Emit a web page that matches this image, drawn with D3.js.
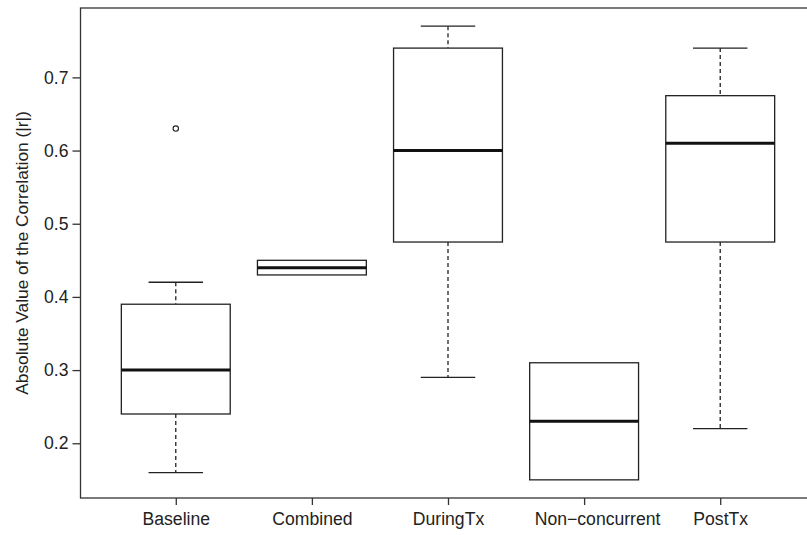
<!DOCTYPE html>
<html>
<head>
<meta charset="utf-8">
<script src="https://cdn.jsdelivr.net/npm/d3@7"></script>
<style>
  html, body { margin: 0; padding: 0; background: #fff; }
  svg text { font-family: "Liberation Sans", Arial, Helvetica, sans-serif; fill: #222; }
</style>
</head>
<body>
<svg id="chart" width="807" height="535"></svg>
<script>
// Box-plot summaries for each phase
const categories   = ["Baseline", "Combined", "DuringTx", "Non\u2212concurrent", "PostTx"];
const whiskerLow   = [0.16, 0.43, 0.29,  0.15, 0.22];
const lowerQuart   = [0.24, 0.43, 0.475, 0.15, 0.475];
const medians      = [0.30, 0.44, 0.60,  0.23, 0.61];
const upperQuart   = [0.39, 0.45, 0.74,  0.31, 0.675];
const whiskerHigh  = [0.42, 0.45, 0.77,  0.31, 0.74];
const outliers     = [[0.63], [], [], [], []];
const yTicks       = [0.2, 0.3, 0.4, 0.5, 0.6, 0.7];
const yTitle       = "Absolute Value of the Correlation (|r|)";

const svg = d3.select("#chart");
const plotLeft = 80.5, plotRight = 815.5, plotTop = 8, plotBottom = 498;

const x = d3.scaleLinear().domain([0.3, 5.7]).range([plotLeft, plotRight]);
const y = d3.scaleLinear().domain([0.1252, 0.7948]).range([plotBottom, plotTop]);

const boxHalf = (x(1) - x(0)) * 0.4;
const capHalf = boxHalf * 0.5;
const ink = "#222";

const data = categories.map((c, i) => ({
  name: c, pos: i + 1,
  lo: whiskerLow[i], q1: lowerQuart[i], med: medians[i],
  q3: upperQuart[i], hi: whiskerHigh[i], out: outliers[i]
}));

// frame
svg.append("rect")
  .attr("x", plotLeft).attr("y", plotTop)
  .attr("width", plotRight - plotLeft).attr("height", plotBottom - plotTop)
  .attr("fill", "none").attr("stroke", "#333").attr("stroke-width", 1.3);

// axes
const yAxis = svg.append("g")
  .attr("transform", `translate(${plotLeft},0)`)
  .call(d3.axisLeft(y).tickValues(yTicks).tickFormat(d3.format(".1f")).tickSize(8).tickPadding(4));
const xAxis = svg.append("g")
  .attr("transform", `translate(0,${plotBottom})`)
  .call(d3.axisBottom(x).tickValues(data.map(d => d.pos))
        .tickFormat(v => categories[v - 1]).tickSize(7).tickPadding(8));
[yAxis, xAxis].forEach(g => {
  g.select(".domain").remove();
  g.selectAll(".tick line").attr("stroke", "#333").attr("stroke-width", 1.3);
  g.selectAll(".tick text").style("font-size", "17.6px").attr("fill", "#222");
});
// the long fourth label sits a little right of its tick
xAxis.selectAll(".tick text").filter(v => v === 4).attr("dx", 13);

// y axis title
svg.append("text")
  .attr("transform", `translate(28,${(plotTop + plotBottom) / 2}) rotate(-90)`)
  .attr("text-anchor", "middle")
  .style("font-size", "17.3px")
  .text(yTitle);

const boxes = svg.append("g").selectAll("g").data(data).join("g");

// dashed whiskers
boxes.append("line")
  .attr("x1", d => x(d.pos)).attr("x2", d => x(d.pos))
  .attr("y1", d => y(d.hi)).attr("y2", d => y(d.q3))
  .attr("stroke", ink).attr("stroke-width", 1.3).attr("stroke-dasharray", "4,3");
boxes.append("line")
  .attr("x1", d => x(d.pos)).attr("x2", d => x(d.pos))
  .attr("y1", d => y(d.q1)).attr("y2", d => y(d.lo))
  .attr("stroke", ink).attr("stroke-width", 1.3).attr("stroke-dasharray", "4,3");

// staples
boxes.filter(d => d.hi > d.q3).append("line")
  .attr("x1", d => x(d.pos) - capHalf).attr("x2", d => x(d.pos) + capHalf)
  .attr("y1", d => y(d.hi)).attr("y2", d => y(d.hi))
  .attr("stroke", ink).attr("stroke-width", 1.3);
boxes.filter(d => d.lo < d.q1).append("line")
  .attr("x1", d => x(d.pos) - capHalf).attr("x2", d => x(d.pos) + capHalf)
  .attr("y1", d => y(d.lo)).attr("y2", d => y(d.lo))
  .attr("stroke", ink).attr("stroke-width", 1.3);

// boxes
boxes.append("rect")
  .attr("x", d => x(d.pos) - boxHalf).attr("width", 2 * boxHalf)
  .attr("y", d => y(d.q3)).attr("height", d => y(d.q1) - y(d.q3))
  .attr("fill", "#fff").attr("stroke", ink).attr("stroke-width", 1.3);

// medians
boxes.append("line")
  .attr("x1", d => x(d.pos) - boxHalf).attr("x2", d => x(d.pos) + boxHalf)
  .attr("y1", d => y(d.med)).attr("y2", d => y(d.med))
  .attr("stroke", "#111").attr("stroke-width", 3);

// outliers
boxes.selectAll("circle").data(d => d.out.map(v => ({ pos: d.pos, v })))
  .join("circle")
  .attr("cx", d => x(d.pos)).attr("cy", d => y(d.v)).attr("r", 2.7)
  .attr("fill", "none").attr("stroke", ink).attr("stroke-width", 1.1);
</script>
</body>
</html>
